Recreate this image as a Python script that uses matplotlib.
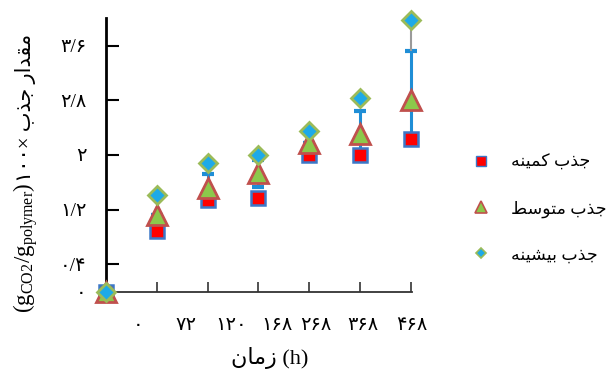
import matplotlib
matplotlib.use("Agg")
import matplotlib.pyplot as plt
from matplotlib.lines import Line2D

# ---------------- data ----------------
time_labels = ['۰', '۷۲', '۱۲۰', '۱۶۸', '۲۶۸', '۳۶۸', '۴۶۸']
min_vals = [0.0, 0.89, 1.34, 1.37, 2.00, 2.00, 2.24]
mid_vals = [0.0, 1.12, 1.51, 1.73, 2.17, 2.31, 2.80]
max_vals = [0.0, 1.42, 1.88, 2.00, 2.35, 2.83, 3.97]
mid_err_low = [0.0, 0.0, 0.21, 0.20, 0.0, 0.33, 0.60]
mid_err_high = [0.0, 0.0, 0.21, 0.20, 0.0, 0.33, 0.72]
max_err_low = [0.0, 0.0, 0.0, 0.0, 0.0, 0.0, 0.45]
ytick_vals = [0, 0.4, 1.2, 2.0, 2.8, 3.6]
ytick_labels = ['۰', '۰/۴', '۱/۲', '۲', '۲/۸', '۳/۶']
legend_labels = ['جذب کمینه', 'جذب متوسط', 'جذب بیشینه']
ylabel_fa = 'مقدار جذب'
xlabel_fa = 'زمان'

# ------------- manual Arabic/Persian shaping (matplotlib has no bidi) -------------
FORMS = {
    'ا': ('\uFE8D', '\uFE8E', None, None),
    'ب': ('\uFE8F', '\uFE90', '\uFE91', '\uFE92'),
    'ت': ('\uFE95', '\uFE96', '\uFE97', '\uFE98'),
    'ج': ('\uFE9D', '\uFE9E', '\uFE9F', '\uFEA0'),
    'د': ('\uFEA9', '\uFEAA', None, None),
    'ذ': ('\uFEAB', '\uFEAC', None, None),
    'ر': ('\uFEAD', '\uFEAE', None, None),
    'ز': ('\uFEAF', '\uFEB0', None, None),
    'س': ('\uFEB1', '\uFEB2', '\uFEB3', '\uFEB4'),
    'ش': ('\uFEB5', '\uFEB6', '\uFEB7', '\uFEB8'),
    'ط': ('\uFEC1', '\uFEC2', '\uFEC3', '\uFEC4'),
    'ق': ('\uFED5', '\uFED6', '\uFED7', '\uFED8'),
    'ک': ('\uFB8E', '\uFB8F', '\uFEDB', '\uFEDC'),
    'م': ('\uFEE1', '\uFEE2', '\uFEE3', '\uFEE4'),
    'ن': ('\uFEE5', '\uFEE6', '\uFEE7', '\uFEE8'),
    'ه': ('\uFEE9', '\uFEEA', '\uFEEB', '\uFEEC'),
    'و': ('\uFEED', '\uFEEE', None, None),
    'ی': ('\uFEEF', '\uFEF0', '\uFEF3', '\uFEF4'),
}


def shape(text):
    out = []
    n = len(text)
    for i, ch in enumerate(text):
        if ch not in FORMS:
            out.append(ch)
            continue
        iso, fin, ini, med = FORMS[ch]
        prev = text[i - 1] if i > 0 else None
        nxt = text[i + 1] if i < n - 1 else None
        join_prev = prev in FORMS and FORMS[prev][2] is not None
        join_next = nxt in FORMS and ini is not None
        if join_prev and join_next:
            out.append(med)
        elif join_prev:
            out.append(fin)
        elif join_next:
            out.append(ini)
        else:
            out.append(iso)
    return ''.join(reversed(out))


FAM = ['Liberation Serif', 'DejaVu Sans']
plt.rcParams['font.family'] = FAM
plt.rcParams['mathtext.fontset'] = 'custom'
plt.rcParams['mathtext.rm'] = 'Liberation Serif'
plt.rcParams['mathtext.it'] = 'Liberation Serif:italic'

W, H = 610, 374
fig = plt.figure(figsize=(W / 100, H / 100), dpi=100)
ax = fig.add_axes([105.7 / W, 1 - 291.6 / H, (412.3 - 105.7) / W, (291.6 - 18.3) / H])

x = list(range(len(time_labels)))

ax.errorbar(x, mid_vals, yerr=[mid_err_low, mid_err_high], fmt='none', ecolor='#1F8ED6',
            elinewidth=2.2, capsize=4, capthick=3, zorder=2, clip_on=False)
ax.errorbar(x, max_vals, yerr=[max_err_low, [0] * len(x)], fmt='none', ecolor='#9A9A9A',
            elinewidth=1.5, capsize=0, zorder=2, clip_on=False)

ax.plot(x, min_vals, linestyle='none', marker='s', markersize=10, markerfacecolor='#FF0000',
        markeredgecolor='#3C78C8', markeredgewidth=1.8, zorder=3, clip_on=False)
ax.plot(x, mid_vals, linestyle='none', marker='^', markersize=14, markerfacecolor='#8CC84B',
        markeredgecolor='#C0504D', markeredgewidth=2.0, zorder=4, clip_on=False)
ax.plot(x, max_vals, linestyle='none', marker='D', markersize=9, markerfacecolor='#1EAAE8',
        markeredgecolor='#9BBB59', markeredgewidth=2.0, zorder=5, clip_on=False)

ax.set_xlim(0, 6)
ax.set_ylim(0, 4)
for s in ['top', 'right']:
    ax.spines[s].set_visible(False)
ax.spines['left'].set_linewidth(2.0)
ax.spines['left'].set_color('black')
ax.spines['bottom'].set_linewidth(1.3)
ax.spines['bottom'].set_color('#333333')

# major ticks (marks only)
ax.set_xticks(x[1:])
ax.set_xticklabels([])
ax.tick_params(axis='x', which='major', direction='in', length=7, width=1.2, color='#333333')
# labels placed as minor ticks (no marks)
label_pos = [0.64, 1.58, 2.47, 3.36, 4.13, 5.06, 6.02]
ax.set_xticks(label_pos, minor=True)
ax.set_xticklabels(time_labels, minor=True)
ax.tick_params(axis='x', which='minor', length=0, pad=18, labelsize=14)

ax.set_yticks(ytick_vals)
ax.set_yticklabels(ytick_labels)
ax.tick_params(axis='y', which='major', direction='in', length=9, width=1.5, pad=14, labelsize=14)
ax.yaxis.get_major_ticks()[0].tick1line.set_visible(False)

# x label
fig.text(270 / W, 1 - 358 / H, shape(xlabel_fa) + ' (h)', ha='center', va='center', fontsize=16)

# y label, built from two pieces
t1 = fig.text(31 / W, 61 / H, r'(g$_{\mathrm{CO2}}$/g$_{\mathrm{polymer}}$)', rotation=90,
              rotation_mode='anchor', ha='left', va='baseline', fontsize=16.5)
fig.canvas.draw()
bb = t1.get_window_extent(renderer=fig.canvas.get_renderer())
fig.text(31 / W, (61 + bb.height) / H, '۱۰۰× ' + shape(ylabel_fa), rotation=90,
         rotation_mode='anchor', ha='left', va='baseline', fontsize=15)

# legend
handles = [
    Line2D([], [], linestyle='none', marker='s', markersize=7, markerfacecolor='#FF0000',
           markeredgecolor='#3C78C8', markeredgewidth=1.0),
    Line2D([], [], linestyle='none', marker='^', markersize=8, markerfacecolor='#8CC84B',
           markeredgecolor='#C0504D', markeredgewidth=1.2),
    Line2D([], [], linestyle='none', marker='D', markersize=5.5, markerfacecolor='#1EAAE8',
           markeredgecolor='#9BBB59', markeredgewidth=1.2),
]
fig.legend(handles, [shape(l) for l in legend_labels], loc='upper left',
           bbox_to_anchor=(462 / W, 1 - 146 / H), frameon=False, fontsize=12.5,
           handlelength=1.2, handletextpad=1.1, labelspacing=1.7, borderpad=0)

fig.savefig('out.png', dpi=100)
